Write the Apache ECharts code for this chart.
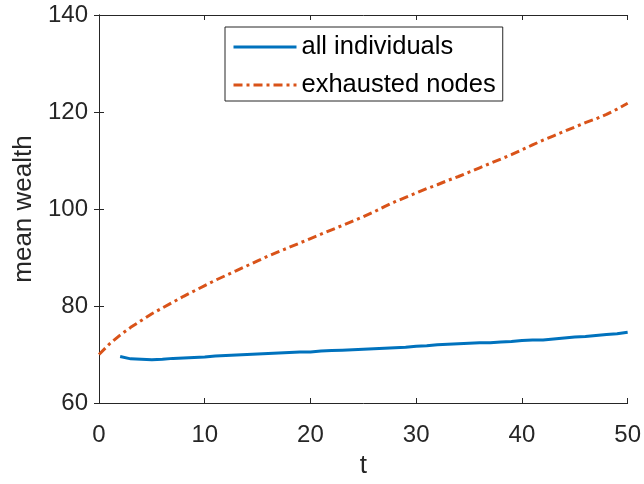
<!DOCTYPE html>
<html>
<head>
<meta charset="utf-8">
<script src="https://cdn.jsdelivr.net/npm/echarts@6/dist/echarts.min.js"></script>
<style>html,body{margin:0;padding:0;background:#fff}#c{width:644px;height:484px}</style>
</head>
<body>
<div id="c"></div>
<script>
// t values
const tAll = [2,3,4,5,6,7,8,9,10,11,12,13,14,15,16,17,18,19,20,21,22,23,24,25,26,27,28,29,30,31,32,33,34,35,36,37,38,39,40,41,42,43,44,45,46,47,48,49,50];
const allIndividuals = [69.6,69.1,69.0,68.9,69.0,69.2,69.3,69.4,69.5,69.7,69.8,69.9,70.0,70.1,70.2,70.3,70.4,70.5,70.5,70.7,70.8,70.9,71.0,71.1,71.2,71.3,71.4,71.5,71.7,71.8,72.0,72.1,72.2,72.3,72.4,72.4,72.6,72.7,72.9,73.0,73.0,73.2,73.4,73.6,73.7,73.9,74.1,74.3,74.6];
const tExh = [0,1,2,3,4,5,6,7,8,9,10,11,12,13,14,15,16,17,18,19,20,21,22,23,24,25,26,27,28,29,30,31,32,33,34,35,36,37,38,39,40,41,42,43,44,45,46,47,48,49,50];
const exhaustedNodes = [70.0,72.2,74.0,75.6,77.0,78.4,79.6,80.8,82.0,83.1,84.2,85.3,86.3,87.3,88.3,89.3,90.3,91.2,92.1,93.0,93.9,94.8,95.7,96.6,97.5,98.4,99.4,100.5,101.5,102.4,103.3,104.2,105.0,105.9,106.7,107.6,108.5,109.4,110.3,111.2,112.2,113.2,114.2,115.1,116.0,116.9,117.8,118.6,119.5,120.6,121.8];
const xTicks = [0,10,20,30,40,50];
const yTicks = [60,80,100,120,140];
const seriesNames = ['all individuals','exhausted nodes'];

const axisColor = '#262626';
const font = 'Liberation Sans, Arial, sans-serif';
const chart = echarts.init(document.getElementById('c'));
const axisCommon = {
  type: 'value',
  axisLine: {show: true, lineStyle: {color: axisColor, width: 1}},
  axisTick: {show: true, inside: true, length: 5, lineStyle: {color: axisColor}},
  splitLine: {show: false},
  axisLabel: {color: axisColor, fontSize: 24, fontFamily: font}
};
chart.setOption({
  animation: false,
  backgroundColor: '#fff',
  grid: {left: 99, right: 14, top: 15, bottom: 78, containLabel: false},
  legend: {
    orient: 'vertical', left: 225, top: 27,
    padding: [7, 7, 3, 7],
    itemGap: 12,
    itemWidth: 63, itemHeight: 26,
    icon: 'inherit',
    itemStyle: {opacity: 0},
    lineStyle: {width: 3},
    borderColor: axisColor, borderWidth: 1, backgroundColor: '#fff',
    textStyle: {color: '#000', fontSize: 25.5, lineHeight: 26, fontFamily: font},
    data: seriesNames
  },
  xAxis: [
    Object.assign({}, axisCommon, {min: 0, max: 50, interval: 10, position: 'bottom',
      name: 't', nameLocation: 'middle', nameGap: 50,
      nameTextStyle: {color: axisColor, fontSize: 26, fontFamily: font},
      axisLabel: Object.assign({}, axisCommon.axisLabel, {margin: 20, formatter: v => xTicks.includes(v) ? String(v) : ''})}),
    Object.assign({}, axisCommon, {min: 0, max: 50, interval: 10, position: 'top', axisLabel: {show: false}})
  ],
  yAxis: [
    Object.assign({}, axisCommon, {min: 60, max: 140, interval: 20, position: 'left',
      name: 'mean wealth', nameLocation: 'middle', nameGap: 56,
      nameTextStyle: {color: axisColor, fontSize: 26, fontFamily: font},
      axisLabel: Object.assign({}, axisCommon.axisLabel, {margin: 11, formatter: v => yTicks.includes(v) ? String(v) : ''})}),
    Object.assign({}, axisCommon, {min: 60, max: 140, interval: 20, position: 'right', axisLabel: {show: false}})
  ],
  series: [
    {name: seriesNames[0], type: 'line', showSymbol: false, symbol: 'none',
     data: tAll.map((t,i)=>[t, allIndividuals[i]]),
     lineStyle: {color: '#0072BD', width: 3}, itemStyle: {color: '#0072BD'}},
    {name: seriesNames[1], type: 'line', showSymbol: false, symbol: 'none',
     data: tExh.map((t,i)=>[t, exhaustedNodes[i]]),
     lineStyle: {color: '#D95319', width: 3, type: [9,4,3,4]}, itemStyle: {color: '#D95319'}}
  ]
});
</script>
</body>
</html>
